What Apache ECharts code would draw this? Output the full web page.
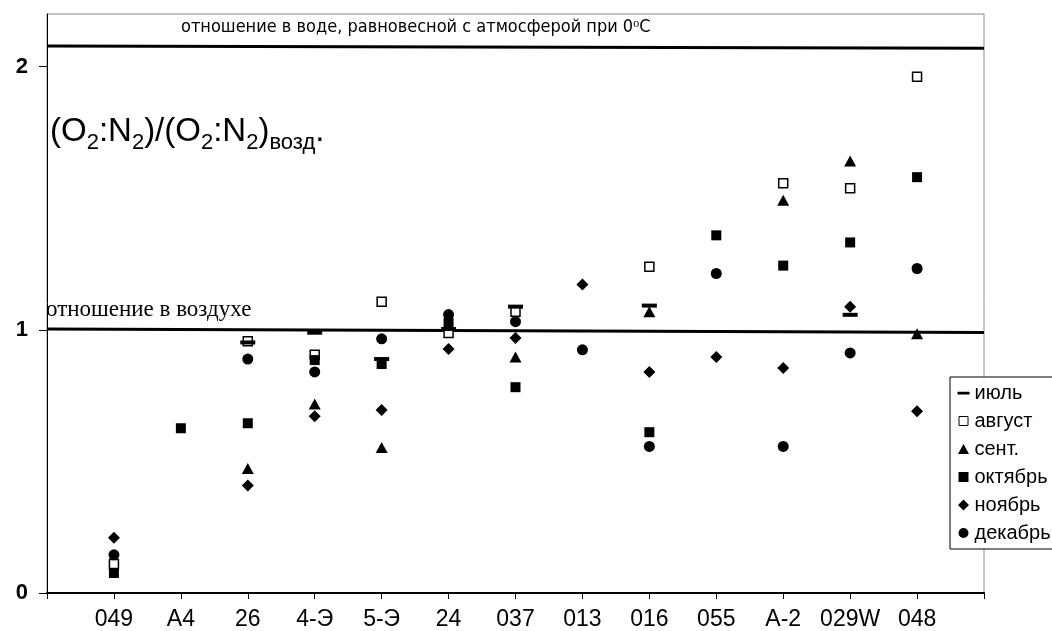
<!DOCTYPE html>
<html>
<head>
<meta charset="utf-8">
<title>O2:N2</title>
<script src="https://cdn.jsdelivr.net/npm/echarts@6/dist/echarts.min.js"></script>
<style>
  html, body { margin: 0; padding: 0; background: #fff; }
  #chart { width: 1052px; height: 631px; }
</style>
</head>
<body>
<div id="chart"></div>
<script>
// скважины по оси X
const stations = ['049', 'A4', '26', '4-Э', '5-Э', '24', '037', '013', '016', '055', 'A-2', '029W', '048']

// (O2:N2)/(O2:N2)возд. по месяцам, null = нет замера
const july = [null, null, 0.952, 0.989, 0.889, 1.003, 1.088, null, 1.092, null, null, 1.057, null]
const august = [0.11, null, 0.957, 0.905, 1.107, 0.988, 1.069, null, 1.24, null, 1.557, 1.538, 1.962]
const september = [null, null, 0.473, 0.718, 0.553, null, 0.897, null, 1.069, null, 1.492, 1.641, 0.985]
const october = [0.076, 0.626, 0.645, 0.885, 0.87, 1.026, 0.782, null, 0.611, 1.359, 1.244, 1.332, 1.58]
const november = [0.21, null, 0.408, 0.672, 0.695, 0.927, 0.969, 1.172, 0.84, 0.897, 0.855, 1.088, 0.691]
const december = [0.145, null, 0.889, 0.84, 0.966, 1.058, 1.031, 0.924, 0.557, 1.214, 0.557, 0.912, 1.233]

// опорные линии: равновесие с атмосферой при 0°C и воздух
const waterLine = [[0, 2.078], [14, 2.07]]
const airLine = [[0, 1.003], [14, 0.99]]

const sans = 'Liberation Sans, Arial, sans-serif'
const black = '#000'

function toPoints(values) {
  return values
    .map((v, i) => (v === null ? null : [i + 1, v]))
    .filter(p => p)
}

// рамка 12x12 для иконок легенды, чтобы фигуры не растягивались
const box = 'M0,0L0.01,0.01M12,12L11.99,11.99'
const icons = {
  dash: 'path://' + box + 'M0,4.8H12V7.4H0Z',
  square: 'path://' + box + 'M1.5,1.5H10.5V10.5H1.5Z',
  triangle: 'path://' + box + 'M6,1L11.5,11H0.5Z',
  filled: 'path://' + box + 'M1,1H11V11H1Z',
  diamond: 'path://' + box + 'M6,0.5L11.5,6L6,11.5L0.5,6Z',
  circle: 'path://' + box + 'M1,6A5,5,0,1,1,11,6A5,5,0,1,1,1,6Z'
}

function scatter(name, values, symbol, size, itemStyle, z) {
  return {
    name: name,
    type: 'scatter',
    data: toPoints(values),
    symbol: symbol,
    symbolSize: size,
    itemStyle: Object.assign({ color: black, opacity: 1 }, itemStyle),
    z: z || 2,
    silent: true
  }
}

function refLine(data) {
  return {
    type: 'line',
    data: data,
    symbol: 'none',
    lineStyle: { color: black, width: 3 },
    silent: true,
    z: 1
  }
}

const chart = echarts.init(document.getElementById('chart'))

const option = {
  animation: false,
  grid: {
    left: 47,
    right: 68,
    top: 14,
    bottom: 38,
    show: true,
    borderColor: '#888',
    borderWidth: 1
  },
  xAxis: {
    type: 'value',
    min: 0,
    max: 14,
    interval: 1,
    axisLine: { lineStyle: { color: black, width: 2 } },
    axisTick: { length: 6, lineStyle: { color: black, width: 1 } },
    axisLabel: {
      margin: 15,
      color: black,
      fontFamily: sans,
      fontSize: 23,
      formatter: v => stations[v - 1] || ''
    },
    splitLine: { show: false }
  },
  yAxis: {
    type: 'value',
    min: 0,
    max: 2.2,
    interval: 1,
    axisLine: { show: true, lineStyle: { color: black, width: 1 } },
    axisTick: { show: true, length: 8, lineStyle: { color: black } },
    axisLabel: {
      margin: 19,
      color: black,
      fontFamily: sans,
      fontSize: 22,
      fontWeight: 'bold',
      showMaxLabel: false
    },
    splitLine: { show: false }
  },
  legend: {
    orient: 'vertical',
    left: 950,
    top: 377,
    itemWidth: 12,
    itemHeight: 12,
    itemGap: 8,
    padding: [6, 8, 6, 7],
    backgroundColor: '#fff',
    borderColor: black,
    borderWidth: 1,
    selectedMode: false,
    textStyle: { color: black, fontFamily: sans, fontSize: 20, lineHeight: 18 },
    data: [
      { name: 'июль', icon: icons.dash, itemStyle: { color: black } },
      { name: 'август', icon: icons.square, itemStyle: { color: '#fff', borderColor: black, borderWidth: 1 } },
      { name: 'сент.', icon: icons.triangle, itemStyle: { color: black } },
      { name: 'октябрь', icon: icons.filled, itemStyle: { color: black } },
      { name: 'ноябрь', icon: icons.diamond, itemStyle: { color: black } },
      { name: 'декабрь', icon: icons.circle, itemStyle: { color: black } }
    ]
  },
  graphic: [
    {
      type: 'text',
      left: 181,
      top: 18,
      style: {
        text: 'отношение в воде, равновесной с атмосферой при 0{sup|o}C',
        fill: black,
        font: '18px "Liberation Sans Narrow", "DejaVu Sans Condensed", sans-serif',
        rich: {
          sup: { fontSize: 12, verticalAlign: 'top', fontFamily: 'Liberation Sans Narrow' }
        }
      }
    },
    {
      type: 'text',
      left: 46,
      top: 298,
      style: {
        text: 'отношение в воздухе',
        fill: black,
        font: '23px "Liberation Serif", "Times New Roman", serif'
      }
    },
    {
      type: 'text',
      left: 50,
      top: 110,
      style: {
        text: '(O{s|2}:N{s|2})/(O{s|2}:N{s|2}){s|возд}.',
        fill: black,
        fontFamily: sans,
        fontSize: 33,
        lineHeight: 44,
        rich: {
          s: { fontSize: 22, fontFamily: sans, verticalAlign: 'bottom', lineHeight: 44 }
        }
      }
    }
  ],
  series: [
    refLine(waterLine),
    refLine(airLine),
    scatter('август', august, 'rect', 9, { color: '#fff', borderColor: black, borderWidth: 1.5 }),
    scatter('июль', july, 'rect', [15, 4], null, 4),
    scatter('сент.', september, 'triangle', [12, 11]),
    scatter('октябрь', october, 'rect', 10),
    scatter('ноябрь', november, 'diamond', [12, 12]),
    scatter('декабрь', december, 'circle', 11)
  ]
}

chart.setOption(option)
</script>
</body>
</html>
